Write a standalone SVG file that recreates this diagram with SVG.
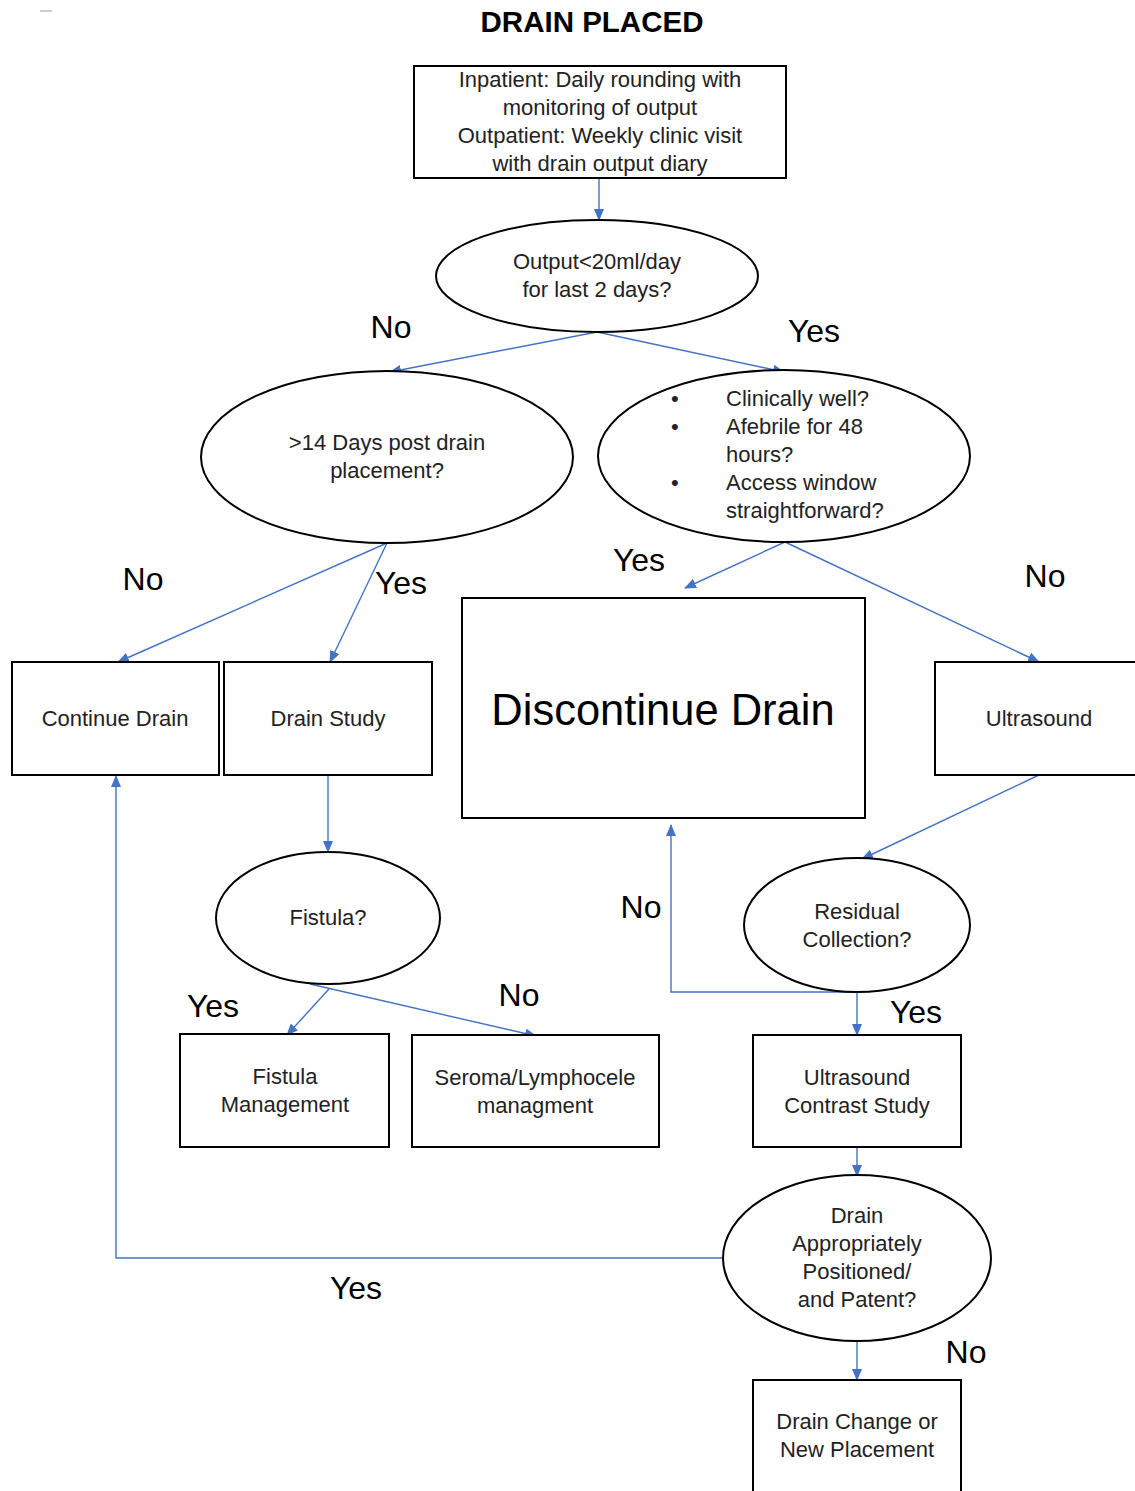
<svg xmlns="http://www.w3.org/2000/svg" width="1135" height="1491" viewBox="0 0 1135 1491">
<style>
  .box{fill:#fff;stroke:#000;stroke-width:2}
  .t{font-family:"Liberation Sans",Arial,sans-serif;font-size:22px;fill:#222;text-anchor:middle}
  .tl{font-family:"Liberation Sans",Arial,sans-serif;font-size:22px;fill:#222}
  .lab{font-family:"Liberation Sans",Arial,sans-serif;font-size:32px;fill:#000;text-anchor:middle}
  .c{fill:none;stroke:#4472C4;stroke-width:1.4}
</style>
<defs>
  <marker id="ah" markerWidth="12" markerHeight="10" refX="11" refY="5" orient="auto" markerUnits="userSpaceOnUse">
    <path d="M0,0 L12,5 L0,10 Z" fill="#4472C4"/>
  </marker>
</defs>
<rect width="1135" height="1491" fill="#fff"/>
<line x1="40" y1="11" x2="52" y2="11" stroke="#999" stroke-width="1"/>
<text x="592" y="32" font-family="Liberation Sans,Arial,sans-serif" font-size="29.5" font-weight="bold" text-anchor="middle" fill="#000">DRAIN PLACED</text>

<g id="connectors">
  <line class="c" x1="599" y1="178" x2="599" y2="220" marker-end="url(#ah)"/>
  <line class="c" x1="597" y1="332" x2="390" y2="372" marker-end="url(#ah)"/>
  <line class="c" x1="597" y1="332" x2="784" y2="372" marker-end="url(#ah)"/>
  <line class="c" x1="387" y1="543" x2="118" y2="662" marker-end="url(#ah)"/>
  <line class="c" x1="387" y1="543" x2="330" y2="662" marker-end="url(#ah)"/>
  <line class="c" x1="785" y1="542" x2="685" y2="588" marker-end="url(#ah)"/>
  <line class="c" x1="785" y1="542" x2="1039" y2="662" marker-end="url(#ah)"/>
  <line class="c" x1="328" y1="775" x2="328" y2="852" marker-end="url(#ah)"/>
  <line class="c" x1="329" y1="989" x2="287" y2="1035" marker-end="url(#ah)"/>
  <line class="c" x1="310" y1="984" x2="536" y2="1036" marker-end="url(#ah)"/>
  <line class="c" x1="1039" y1="775" x2="862" y2="859" marker-end="url(#ah)"/>
  <polyline class="c" points="857,992 671,992 671,825" marker-end="url(#ah)"/>
  <line class="c" x1="857" y1="992" x2="857" y2="1035" marker-end="url(#ah)"/>
  <line class="c" x1="857" y1="1147" x2="857" y2="1176" marker-end="url(#ah)"/>
  <polyline class="c" points="723,1258 116,1258 116,776" marker-end="url(#ah)"/>
  <line class="c" x1="857" y1="1341" x2="857" y2="1380" marker-end="url(#ah)"/>
</g>

<g id="labels">
  <text class="lab" x="391" y="338">No</text>
  <text class="lab" x="814" y="342">Yes</text>
  <text class="lab" x="143" y="590">No</text>
  <text class="lab" x="401" y="594">Yes</text>
  <text class="lab" x="639" y="571">Yes</text>
  <text class="lab" x="1045" y="587">No</text>
  <text class="lab" x="213" y="1017">Yes</text>
  <text class="lab" x="519" y="1006">No</text>
  <text class="lab" x="641" y="918">No</text>
  <text class="lab" x="916" y="1023">Yes</text>
  <text class="lab" x="356" y="1299">Yes</text>
  <text class="lab" x="966" y="1363">No</text>
</g>

<g id="n1">
  <rect class="box" x="414" y="66" width="372" height="112"/>
  <text class="t" x="600" y="87">Inpatient: Daily rounding with</text>
  <text class="t" x="600" y="115">monitoring of output</text>
  <text class="t" x="600" y="143">Outpatient: Weekly clinic visit</text>
  <text class="t" x="600" y="171">with drain output diary</text>
</g>
<g id="n2">
  <ellipse class="box" cx="597" cy="276" rx="161" ry="56"/>
  <text class="t" x="597" y="269">Output&lt;20ml/day</text>
  <text class="t" x="597" y="297">for last 2 days?</text>
</g>
<g id="n3">
  <ellipse class="box" cx="387" cy="457" rx="186" ry="86"/>
  <text class="t" x="387" y="450">&gt;14 Days post drain</text>
  <text class="t" x="387" y="478">placement?</text>
</g>
<g id="n4">
  <ellipse class="box" cx="784" cy="456" rx="186" ry="86"/>
  <text class="tl" x="671" y="406">•</text>
  <text class="tl" x="671" y="434">•</text>
  <text class="tl" x="671" y="490">•</text>
  <text class="tl" x="726" y="406">Clinically well?</text>
  <text class="tl" x="726" y="434">Afebrile for 48</text>
  <text class="tl" x="726" y="462">hours?</text>
  <text class="tl" x="726" y="490">Access window</text>
  <text class="tl" x="726" y="518">straightforward?</text>
</g>
<g id="n5">
  <rect class="box" x="12" y="662" width="207" height="113"/>
  <text class="t" x="115" y="726">Continue Drain</text>
</g>
<g id="n6">
  <rect class="box" x="224" y="662" width="208" height="113"/>
  <text class="t" x="328" y="726">Drain Study</text>
</g>
<g id="n7">
  <rect class="box" x="462" y="598" width="403" height="220"/>
  <text x="663" y="725" font-family="Liberation Sans,Arial,sans-serif" font-size="43.5" text-anchor="middle" fill="#000">Discontinue Drain</text>
</g>
<g id="n8">
  <rect class="box" x="935" y="662" width="210" height="113"/>
  <text class="t" x="1039" y="726">Ultrasound</text>
</g>
<g id="n9">
  <ellipse class="box" cx="328" cy="918" rx="112" ry="66"/>
  <text class="t" x="328" y="925">Fistula?</text>
</g>
<g id="n10">
  <rect class="box" x="180" y="1034" width="209" height="113"/>
  <text class="t" x="285" y="1084">Fistula</text>
  <text class="t" x="285" y="1112">Management</text>
</g>
<g id="n11">
  <rect class="box" x="412" y="1035" width="247" height="112"/>
  <text class="t" x="535" y="1085">Seroma/Lymphocele</text>
  <text class="t" x="535" y="1113">managment</text>
</g>
<g id="n12">
  <ellipse class="box" cx="857" cy="925" rx="113" ry="67"/>
  <text class="t" x="857" y="919">Residual</text>
  <text class="t" x="857" y="947">Collection?</text>
</g>
<g id="n13">
  <rect class="box" x="753" y="1035" width="208" height="112"/>
  <text class="t" x="857" y="1085">Ultrasound</text>
  <text class="t" x="857" y="1113">Contrast Study</text>
</g>
<g id="n14">
  <ellipse class="box" cx="857" cy="1258" rx="134" ry="83"/>
  <text class="t" x="857" y="1223">Drain</text>
  <text class="t" x="857" y="1251">Appropriately</text>
  <text class="t" x="857" y="1279">Positioned/</text>
  <text class="t" x="857" y="1307">and Patent?</text>
</g>
<g id="n15">
  <rect class="box" x="753" y="1380" width="208" height="120"/>
  <text class="t" x="857" y="1429">Drain Change or</text>
  <text class="t" x="857" y="1457">New Placement</text>
</g>
</svg>
